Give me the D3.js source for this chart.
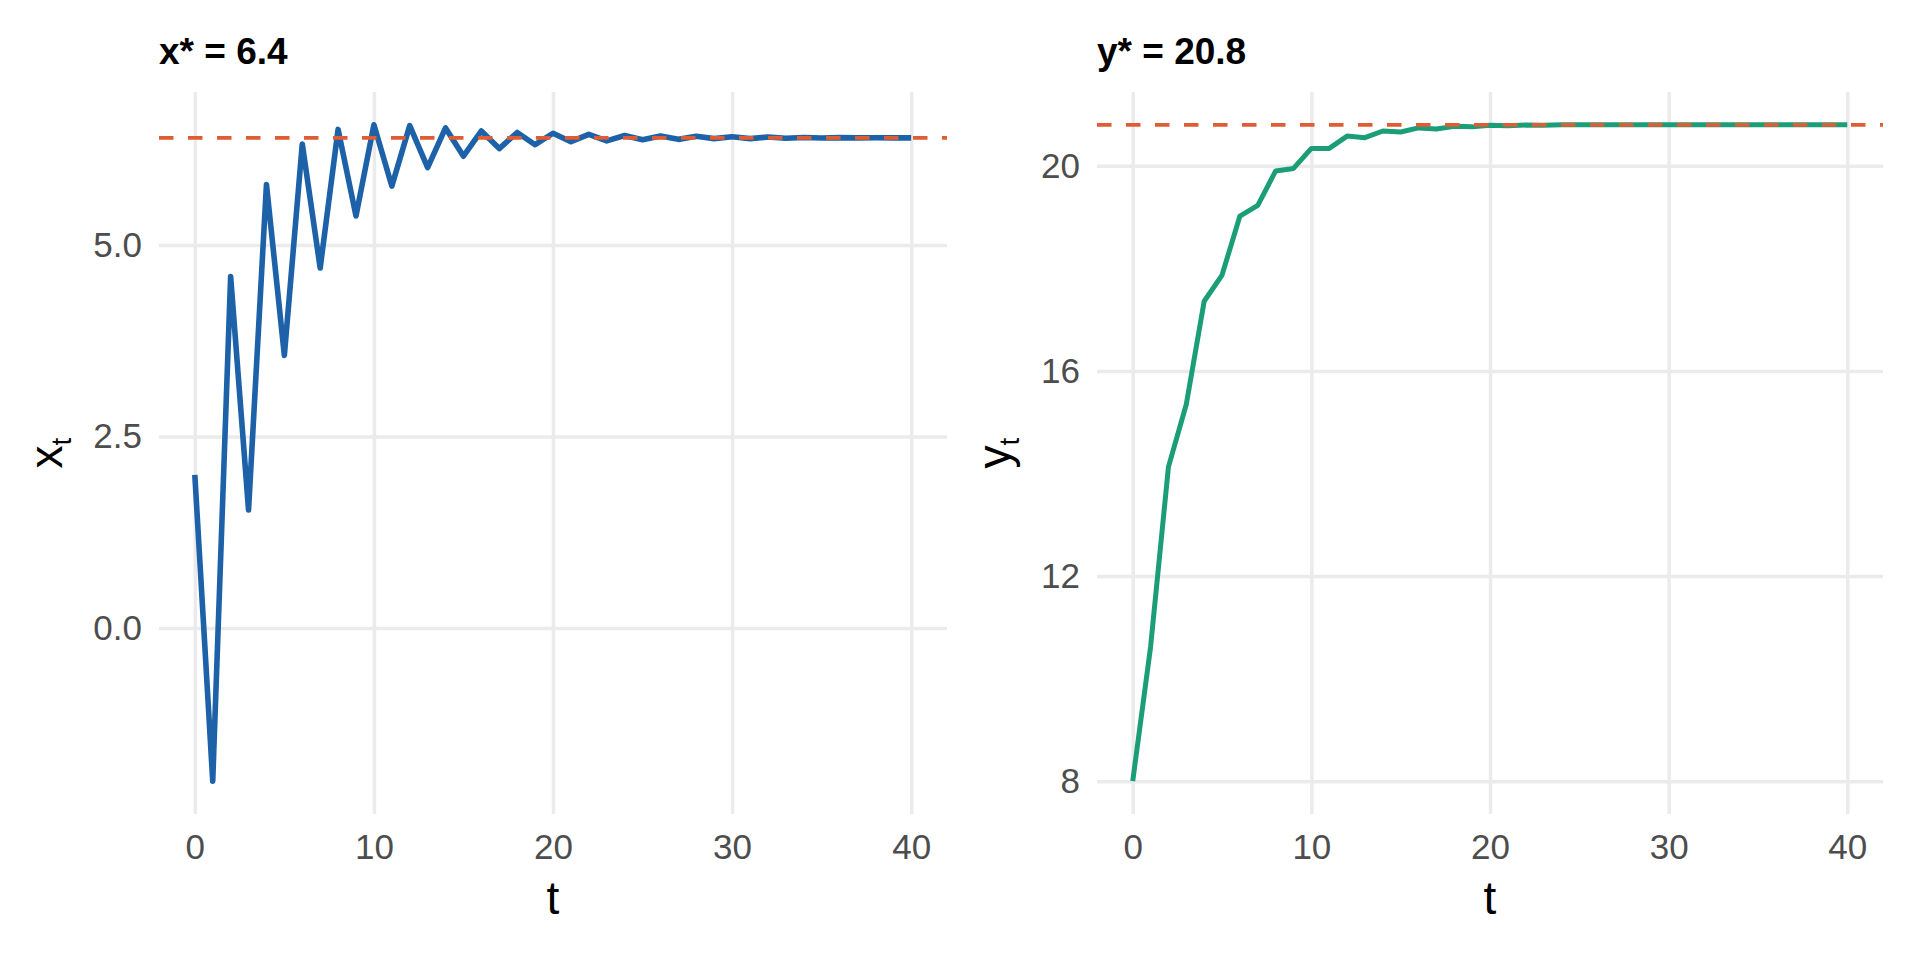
<!DOCTYPE html>
<html>
<head>
<meta charset="utf-8">
<script src="https://cdn.jsdelivr.net/npm/d3@7"></script>
<style>
	body { margin: 0; background: #fff; }
	svg { display: block; font-family: "Liberation Sans", Arial, sans-serif; }
</style>
</head>
<body>
<svg id="chart" width="1920" height="960"></svg>
<script>
// Values
const periods = [
	0, 1, 2, 3, 4, 5, 6, 7, 8, 9, 10, 11, 12, 13, 14, 15, 16, 17, 18, 19, 20,
	21, 22, 23, 24, 25, 26, 27, 28, 29, 30, 31, 32, 33, 34, 35, 36, 37, 38, 39, 40,
]
const xSeries = [
	2.00, -2.00, 4.59, 1.54, 5.79, 3.56, 6.32, 4.70, 6.51, 5.38, 6.57,
	5.77, 6.56, 6.01, 6.53, 6.16, 6.49, 6.26, 6.47, 6.31, 6.46,
	6.35, 6.445, 6.36, 6.43, 6.375, 6.425, 6.38, 6.42, 6.39, 6.415,
	6.39, 6.41, 6.395, 6.405, 6.398, 6.403, 6.399, 6.401, 6.40, 6.40,
]
const ySeries = [
	8.00, 10.62, 14.13, 15.35, 17.36, 17.87, 19.02, 19.23, 19.90, 19.95, 20.34,
	20.34, 20.58, 20.55, 20.68, 20.66, 20.74, 20.72, 20.77, 20.76, 20.79,
	20.78, 20.795, 20.79, 20.80, 20.80, 20.80, 20.80, 20.80, 20.80, 20.80,
	20.80, 20.80, 20.80, 20.80, 20.80, 20.80, 20.80, 20.80, 20.80, 20.80,
]
const xStar = 6.4
const yStar = 20.8
const tTicks = [0, 10, 20, 30, 40]
const xTicks = [0, 2.5, 5]
const yTicks = [8, 12, 16, 20]

const config = {
	top: 92,
	bottom: 814,
	grid: { colour: "#ebebeb", stroke: 3.5 },
	tickFontSize: 35,
	tickColour: "#4d4d4d",
	titleFontSize: 37,
	axisTitleFontSize: 46,
	subFontSize: 28,
	star: { colour: "#de5d33", stroke: 3.8, dash: "14.5 14.5" },
}

const panels = [
	{
		left: 159, right: 947,
		values: xSeries, star: xStar, ticks: xTicks,
		format: d3.format(".1f"),
		name: "x", colour: "#1d62a8", stroke: 5.6,
	},
	{
		left: 1097, right: 1883,
		values: ySeries, star: yStar, ticks: yTicks,
		format: d3.format("d"),
		name: "y", colour: "#1b9e77", stroke: 5,
	},
]

// ggplot-style 5% padding on both ends of a continuous scale
function expand([lo, hi], mult = 0.05) {
	const pad = (hi - lo) * mult
	return [lo - pad, hi + pad]
}

const svg = d3.select("#chart")

panels.forEach(p => {
	const g = svg.append("g")

	const x = d3.scaleLinear()
		.domain(expand(d3.extent(periods)))
		.range([p.left, p.right])
	const y = d3.scaleLinear()
		.domain(expand(d3.extent([...p.values, p.star])))
		.range([config.bottom, config.top])

	// Vertical grid + t tick labels
	g.append("g")
		.attr("transform", `translate(0, ${config.bottom})`)
		.call(d3.axisBottom(x)
			.tickValues(tTicks)
			.tickSize(-(config.bottom - config.top))
			.tickPadding(20))

	// Horizontal grid + value tick labels
	const yAxis = g.append("g")
		.attr("transform", `translate(${p.left}, 0)`)
		.call(d3.axisLeft(y)
			.tickValues(p.ticks)
			.tickFormat(p.format)
			.tickSize(-(p.right - p.left))
			.tickPadding(17))

	g.selectAll(".domain").remove()
	g.selectAll(".tick line")
		.attr("stroke", config.grid.colour)
		.attr("stroke-width", config.grid.stroke)
	g.selectAll(".tick text")
		.attr("fill", config.tickColour)
		.style("font-size", `${config.tickFontSize}px`)
		.style("font-family", "inherit")

	// Series line
	g.append("path")
		.datum(periods.map((t, i) => [t, p.values[i]]))
		.attr("fill", "none")
		.attr("stroke", p.colour)
		.attr("stroke-width", p.stroke)
		.attr("stroke-linejoin", "round")
		.attr("d", d3.line().x(d => x(d[0])).y(d => y(d[1])))

	// Equilibrium line
	g.append("line")
		.attr("x1", p.left)
		.attr("x2", p.right)
		.attr("y1", y(p.star))
		.attr("y2", y(p.star))
		.attr("stroke", config.star.colour)
		.attr("stroke-width", config.star.stroke)
		.attr("stroke-dasharray", config.star.dash)

	// Panel title
	g.append("text")
		.attr("x", p.left)
		.attr("y", 64)
		.style("font-size", `${config.titleFontSize}px`)
		.style("font-weight", "bold")
		.text(`${p.name}* = ${d3.format(".1f")(p.star)}`)

	// x axis title
	g.append("text")
		.attr("x", (p.left + p.right) / 2)
		.attr("y", 914)
		.attr("text-anchor", "middle")
		.style("font-size", `${config.axisTitleFontSize}px`)
		.text("t")

	// y axis title, placed left of the widest tick label
	const labelLeft = d3.min(yAxis.selectAll(".tick text").nodes(), n => {
		const b = n.getBBox()
		return p.left + b.x
	})
	const label = g.append("text")
		.attr("transform", `translate(${labelLeft - 31}, ${(config.top + config.bottom) / 2}) rotate(-90)`)
		.attr("text-anchor", "middle")
		.style("font-size", `${config.axisTitleFontSize}px`)
	label.append("tspan").text(p.name)
	label.append("tspan")
		.attr("dy", 9)
		.style("font-size", `${config.subFontSize}px`)
		.text("t")
})
</script>
</body>
</html>
